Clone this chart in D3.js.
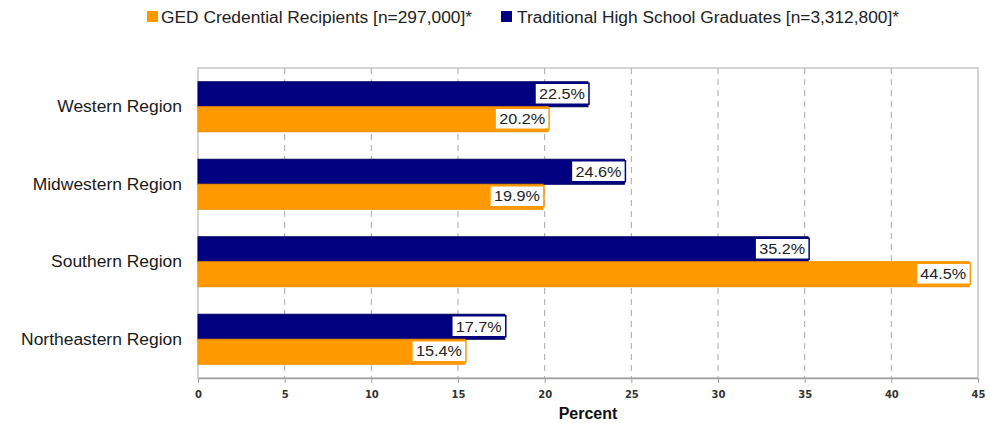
<!DOCTYPE html>
<html><head><meta charset="utf-8">
<script src="https://cdn.jsdelivr.net/npm/d3@7"></script>
<style>body{margin:0;background:#fff;font-family:"Liberation Sans",Arial,sans-serif}</style>
</head><body><svg id="c" width="990" height="423"></svg>
<script>
const categories = ["Western Region","Midwestern Region","Southern Region","Northeastern Region"];
const seriesNames = ["Traditional High School Graduates [n=3,312,800]*","GED Credential Recipients [n=297,000]*"];
const hsValues = [22.5, 24.6, 35.2, 17.7];
const gedValues = [20.2, 19.9, 44.5, 15.4];
const xTicks = [0,5,10,15,20,25,30,35,40,45];
const legendOrder = ["GED Credential Recipients [n=297,000]*","Traditional High School Graduates [n=3,312,800]*"];
const colors = {"Traditional High School Graduates [n=3,312,800]*":"#000080","GED Credential Recipients [n=297,000]*":"#ff9900"};

const svg = d3.select("#c");
const m = {l:198, r:978, t:68, b:378};
const x = d3.scaleLinear().domain([0,45]).range([m.l, m.r]);
const y = d3.scaleBand().domain(categories).range([m.t, m.b]).paddingInner(0.355).paddingOuter(0.1775);
const y1 = d3.scaleBand().domain(seriesNames).range([0, y.bandwidth()]);

function stretch(sel, f){ sel.each(function(){ const w=this.getComputedTextLength(); d3.select(this).attr("textLength", w*f).attr("lengthAdjust","spacingAndGlyphs"); }); }

// plot border
svg.append("rect").attr("x",m.l).attr("y",m.t).attr("width",m.r-m.l).attr("height",m.b-m.t)
  .attr("fill","#fff").attr("stroke","#c8c8c8").attr("stroke-width",1.5);
// grid
svg.append("g").selectAll("line").data(xTicks.slice(1,-1)).join("line")
  .attr("x1",d=>x(d)).attr("x2",d=>x(d)).attr("y1",m.t).attr("y2",m.b)
  .attr("stroke","#a8a8a8").attr("stroke-dasharray","6,5").attr("stroke-width",1);

// axis
const ax = svg.append("g").attr("transform",`translate(0,${m.b})`)
  .call(d3.axisBottom(x).tickValues(xTicks).tickSize(5).tickSizeOuter(0).tickPadding(8));
ax.select(".domain").attr("stroke","#a0a0a0").attr("stroke-width",1.5);
ax.selectAll(".tick line").attr("stroke","#a0a0a0");
ax.selectAll("text").attr("font-size",10).attr("font-weight","bold").attr("fill","#333")
  .attr("font-family","DejaVu Sans, sans-serif");

// category labels
const cl = svg.append("g").selectAll("text").data(categories).join("text")
  .attr("x",182).attr("y",d=>y(d)+y.bandwidth()/2).attr("dy","0.35em")
  .attr("text-anchor","end").attr("font-size",16).attr("fill","#1a1a1a").text(d=>d);
stretch(cl, 1.09);

// bars
const data = categories.map((c,i)=>({c, vals:[{s:seriesNames[0],v:hsValues[i]},{s:seriesNames[1],v:gedValues[i]}]}));
const g = svg.append("g").selectAll("g").data(data).join("g").attr("transform",d=>`translate(0,${y(d.c)})`);
g.selectAll("rect").data(d=>d.vals).join("rect")
  .attr("x",x(0)).attr("y",d=>y1(d.s)).attr("width",d=>x(d.v)-x(0)).attr("height",y1.bandwidth())
  .attr("fill",d=>colors[d.s]).attr("stroke",d=>d.s===seriesNames[0]?"#000060":"#f08c00").attr("stroke-width",1);

// value labels
const lab = g.selectAll("g.lab").data(d=>d.vals).join("g").attr("class","lab");
lab.append("rect")
  .attr("x",d=>x(d.v)-53).attr("y",d=>y1(d.s)+1.5).attr("width",54).attr("height",21)
  .attr("fill","#fff").attr("stroke",d=>colors[d.s]).attr("stroke-width",1.5);
const vt = lab.append("text")
  .attr("x",d=>x(d.v)-26).attr("y",d=>y1(d.s)+12).attr("dy","0.35em")
  .attr("text-anchor","middle").attr("font-size",15).attr("fill","#222").text(d=>d.v.toFixed(1)+"%");
stretch(vt, 1.08);

// axis title
svg.append("text").attr("x",588).attr("y",419).attr("text-anchor","middle")
  .attr("font-size",16).attr("font-weight","bold").attr("fill","#111").text("Percent");

// legend
const legX = [147, 501];
const legW = [311, 382];
const lg = svg.append("g").selectAll("g").data(legendOrder).join("g")
  .attr("transform",(d,i)=>`translate(${legX[i]},17)`);
lg.append("rect").attr("x",0).attr("y",-6).attr("width",11).attr("height",11).attr("fill",d=>colors[d]);
lg.append("text").attr("x",(d,i)=>i===0?14:16).attr("y",0).attr("dy","0.35em").attr("font-size",16).attr("fill","#222")
  .attr("textLength",(d,i)=>legW[i]).attr("lengthAdjust","spacingAndGlyphs").text(d=>d);
</script></body></html>
